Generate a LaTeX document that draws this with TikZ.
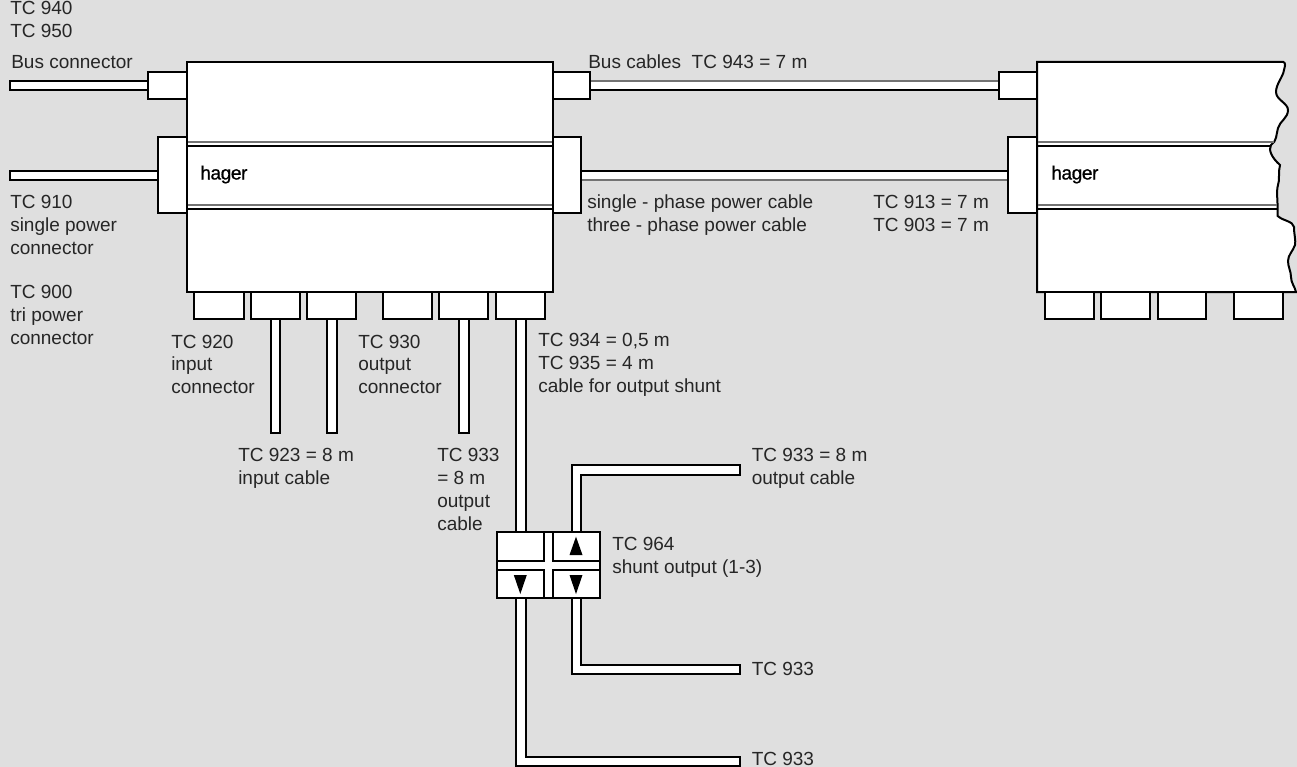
\documentclass[tikz,border=0pt]{standalone}
\usepackage{fontspec}
\setmainfont{Liberation Sans}
\newfontfamily\brandfont[FakeBold=0.8,LetterSpace=-2.5]{Liberation Sans}
\definecolor{bg}{HTML}{DFDFDF}
\definecolor{txt}{HTML}{262626}
\tikzset{
 x=0.75pt,y=-0.75pt,
 part/.style={draw=black,fill=white,line width=1.5pt,line join=miter},
 heavy/.style={draw=black,line width=1.5pt},
 hair/.style={draw=black,line width=0.85pt},
 grayline/.style={draw=black!55,line width=1pt},
 lbl/.style={anchor=base west,inner sep=0pt,text=txt,font=\fontsize{14.25pt}{17pt}\selectfont},
 brand/.style={anchor=base west,inner sep=0pt,font=\brandfont\fontsize{14.4pt}{17pt}\selectfont,text=black},
 tri/.style={fill=black,draw=none}
}
\begin{document}
\begin{tikzpicture}
\path[use as bounding box,fill=bg] (0,0) rectangle (1297,767);
% cables
\draw[part] (10,81) rectangle (148,90);
\draw[part] (10,171) rectangle (158,180);
\fill[white] (590,81) rectangle (999,90);
\draw[grayline] (590,81) -- (999,81);
\draw[heavy] (590,90) -- (999,90);
\fill[white] (581,171) rectangle (1008,180);
\draw[heavy] (581,171) -- (1008,171);
\draw[grayline] (581,180) -- (1008,180);
\draw[part] (271,319) rectangle (280,433);
\draw[part] (327,319) rectangle (337,433);
\draw[part] (459,319) rectangle (469,433);
\draw[part] (516,319) rectangle (526,532);
\draw[part] (572,532) -- (572,465) -- (740,465) -- (740,475) -- (581,475) -- (581,532);
\draw[part] (572,598) -- (572,674) -- (740,674) -- (740,665) -- (581,665) -- (581,598);
\draw[part] (516,598) -- (516,766) -- (740,766) -- (740,757) -- (526,757) -- (526,598);
% main unit
\draw[part] (187,62) rectangle (553,292);
\draw[grayline] (187,142) -- (553,142);
\draw[hair] (187,146) -- (553,146);
\draw[grayline] (187,205) -- (553,205);
\draw[hair] (187,209) -- (553,209);
\node[brand] (hagerA) at (200,179.5) {hager};
% connectors main
\draw[part] (148,72) rectangle (187,99);
\draw[part] (158,137) rectangle (187,213);
\draw[part] (553,72) rectangle (590,99);
\draw[part] (553,137) rectangle (581,213);
\foreach \a/\b in {194/244,251/300,307/356,383/432,439/488,496/545}
  \draw[part] (\a,292) rectangle (\b,319);
% second unit
\draw[part,fill=white] (1037,62) -- (1283.3,62) .. controls (1286,63) and (1285,66) .. (1284,70)
  .. controls (1283,77) and (1276,84) .. (1276,92)
  .. controls (1276,100) and (1288,103) .. (1288,110)
  .. controls (1288,118) and (1280,121) .. (1278,128)
  .. controls (1276,135) and (1277,141) .. (1271,145)
  .. controls (1268,150) and (1272,158) .. (1280,165)
  .. controls (1278,172) and (1280,180) .. (1278,185)
  .. controls (1276,192) and (1278,200) .. (1277.7,216)
  .. controls (1283,221) and (1293,221) .. (1294,227)
  .. controls (1294,235) and (1296,240) .. (1295,245)
  .. controls (1293,251) and (1288,255) .. (1288,261)
  .. controls (1288,267) and (1291,271) .. (1291,277)
  .. controls (1291,283) and (1295,287) .. (1296,292)
  -- (1037,292) -- cycle;
\draw[grayline] (1037,142) -- (1274,142);
\draw[hair] (1037,146) -- (1270,146);
\draw[grayline] (1037,205) -- (1277,205);
\draw[hair] (1037,209) -- (1277,209);
\node[brand] (hagerB) at (1051,179.5) {hager};
\draw[part] (999,72) rectangle (1037,99);
\draw[part] (1008,137) rectangle (1037,213);
\foreach \a/\b in {1045/1094,1101/1150,1158/1206,1234/1283}
  \draw[part] (\a,292) rectangle (\b,319);
% shunt
\draw[part] (497,532) rectangle (600,598);
\draw[hair] (544,532) -- (544,561) -- (497,561);
\draw[hair] (553,532) -- (553,561) -- (600,561);
\draw[hair] (544,598) -- (544,570) -- (497,570);
\draw[hair] (553,598) -- (553,570) -- (600,570);
\fill[tri] (576,536.7) -- (582.5,555) -- (569.5,555) -- cycle;
\fill[tri] (576,594) -- (582.5,575) -- (569.5,575) -- cycle;
\fill[tri] (520.3,594) -- (526.8,575) -- (513.8,575) -- cycle;
% labels
\node[lbl] (l1) at (10,15) {TC 940};
\node[lbl] (l2) at (10,38) {TC 950};
\node[lbl] (l3) at (11,68.7) {Bus connector};
\node[lbl] (l4) at (10,208.7) {TC 910};
\node[lbl] (l5) at (10,231.7) {single power};
\node[lbl] (l6) at (10,254.7) {connector};
\node[lbl] (l7) at (10,298.5) {TC 900};
\node[lbl] (l8) at (10,321.5) {tri power};
\node[lbl] (l9) at (10,344.5) {connector};
\node[lbl] (m1) at (171,348) {TC 920};
\node[lbl] (m2) at (171,370.5) {input};
\node[lbl] (m3) at (171,393) {connector};
\node[lbl] (m4) at (358,348) {TC 930};
\node[lbl] (m5) at (358,370.5) {output};
\node[lbl] (m6) at (358,393) {connector};
\node[lbl] (n1) at (538,346.5) {TC 934 = 0,5 m};
\node[lbl] (n2) at (538,369.5) {TC 935 = 4 m};
\node[lbl] (n3) at (538,392.5) {cable for output shunt};
\node[lbl] (o1) at (238,461) {TC 923 = 8 m};
\node[lbl] (o2) at (238,484) {input cable};
\node[lbl] (p1) at (437,461) {TC 933};
\node[lbl] (p2) at (437,484) {= 8 m};
\node[lbl] (p3) at (437,507) {output};
\node[lbl] (p4) at (437,530) {cable};
\node[lbl] (q1) at (751.5,461) {TC 933 = 8 m};
\node[lbl] (q2) at (751.5,484) {output cable};
\node[lbl] (r1) at (612,550) {TC 964};
\node[lbl] (r2) at (612,573) {shunt output (1-3)};
\node[lbl] (s1) at (751.5,675.5) {TC 933};
\node[lbl] (s2) at (751.5,765) {TC 933};
\node[lbl] (t1) at (588,68.7) {Bus cables\ \ TC 943 = 7 m};
\node[lbl] (t2) at (587,208.7) {single - phase power cable};
\node[lbl] (t3) at (587,231.7) {three - phase power cable};
\node[lbl] (t4) at (873,208.7) {TC 913 = 7 m};
\node[lbl] (t5) at (873,231.7) {TC 903 = 7 m};
\end{tikzpicture}
\end{document}
